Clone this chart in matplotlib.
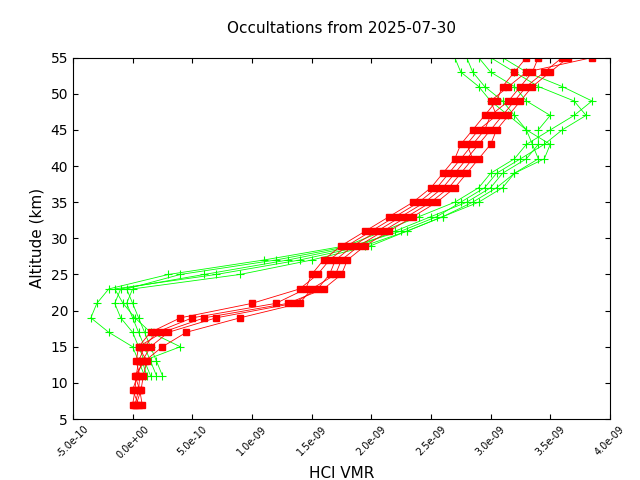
import matplotlib
matplotlib.use("Agg")
import matplotlib.pyplot as plt
import numpy as np

red_alt = [7, 9, 11, 13, 15, 17, 19, 21, 23, 25, 27, 29, 31, 33, 35, 37, 39, 41, 43, 45, 47, 49, 51, 53, 55]
red_profiles = [
    [0.00, 0.02, 0.03, 0.05, 0.10, 0.20, 0.50, 1.20, 1.45, 1.50, 1.60, 1.75, 1.95, 2.15, 2.35, 2.50, 2.60, 2.70, 2.75, 2.85, 2.95, 3.05, 3.10, 3.20, 3.30],
    [0.05, 0.00, 0.04, 0.08, 0.15, 0.30, 0.70, 1.35, 1.55, 1.65, 1.70, 1.85, 2.05, 2.25, 2.45, 2.60, 2.70, 2.80, 2.90, 3.00, 3.10, 3.20, 3.30, 3.45, 3.60],
    [0.02, 0.05, 0.06, 0.03, 0.05, 0.15, 0.40, 1.00, 1.40, 1.55, 1.65, 1.80, 2.00, 2.20, 2.40, 2.55, 2.65, 2.75, 2.85, 2.95, 3.00, 3.15, 3.25, 3.35, 3.40],
    [0.08, 0.06, 0.02, 0.10, 0.25, 0.45, 0.90, 1.40, 1.50, 1.70, 1.75, 1.90, 2.10, 2.30, 2.50, 2.65, 2.75, 2.85, 2.80, 2.90, 3.05, 3.00, 3.15, 3.30, 3.85],
    [0.03, 0.07, 0.09, 0.12, 0.05, 0.25, 0.60, 1.30, 1.60, 1.75, 1.80, 1.95, 2.15, 2.35, 2.55, 2.70, 2.80, 2.90, 3.00, 3.05, 3.15, 3.25, 3.35, 3.50, 3.65],
]
green_alt = [11, 13, 15, 17, 19, 21, 23, 25, 27, 29, 31, 33, 35, 37, 39, 41, 43, 45, 47, 49, 51, 53, 55]
green_profiles = [
    [0.15, 0.10, 0.05, 0.00, -0.10, -0.15, -0.10, 0.60, 1.30, 1.90, 2.20, 2.50, 2.80, 3.00, 3.10, 3.30, 3.40, 3.40, 3.50, 3.30, 3.20, 3.00, 2.90],
    [0.10, 0.05, 0.00, -0.20, -0.35, -0.30, -0.20, 0.30, 1.10, 1.80, 2.10, 2.40, 2.70, 2.90, 3.00, 3.20, 3.30, 3.50, 3.70, 3.85, 3.60, 3.30, 3.10],
    [0.20, 0.15, 0.10, 0.05, 0.00, -0.05, 0.00, 0.90, 1.50, 2.00, 2.30, 2.60, 2.90, 3.10, 3.20, 3.40, 3.35, 3.30, 3.20, 3.10, 2.95, 2.85, 2.80],
    [0.25, 0.20, 0.15, 0.10, 0.05, 0.00, -0.05, 0.40, 1.20, 1.85, 2.25, 2.55, 2.75, 2.95, 3.05, 3.25, 3.45, 3.60, 3.80, 3.70, 3.40, 3.20, 3.00],
    [0.12, 0.08, 0.40, 0.15, 0.02, -0.08, -0.15, 0.70, 1.40, 1.95, 2.30, 2.60, 2.85, 3.05, 3.20, 3.45, 3.50, 3.30, 3.15, 3.00, 2.90, 2.75, 2.70],
]

fig, ax = plt.subplots(figsize=(6.4, 4.8), dpi=100)
fig.subplots_adjust(left=0.114, right=0.953, top=0.88, bottom=0.127)
for p in green_profiles:
    ax.plot(np.array(p) * 1e-9, green_alt, color="#00ff00", lw=0.6, marker="+", ms=6, mew=0.8)
for p in red_profiles:
    ax.plot(np.array(p) * 1e-9, red_alt, color="#ff0000", lw=0.6, marker="s", ms=5)

ax.set_xlim(-5e-10, 4e-9)
ax.set_ylim(5, 55)
xt = np.arange(-5e-10, 4.01e-9, 5e-10)
ax.set_xticks(xt)
ax.set_xticklabels([f"{v:.1e}".replace("e-10", "e-10").replace("e-0", "e-0") for v in xt], rotation=45, fontsize=7)
ax.set_xticklabels(["-5.0e-10", "0.0e+00", "5.0e-10", "1.0e-09", "1.5e-09", "2.0e-09", "2.5e-09", "3.0e-09", "3.5e-09", "4.0e-09"], rotation=45, fontsize=7)
ax.set_yticks(range(5, 56, 5))
ax.tick_params(axis="y", labelsize=10, direction="in")
ax.tick_params(axis="x", direction="in")
ax.tick_params(top=True, right=True)
ax.set_xlabel("HCl VMR", fontsize=11)
ax.set_ylabel("Altitude (km)", fontsize=11)
ax.set_title("Occultations from 2025-07-30", fontsize=11, pad=18)
fig.savefig("out.png")
